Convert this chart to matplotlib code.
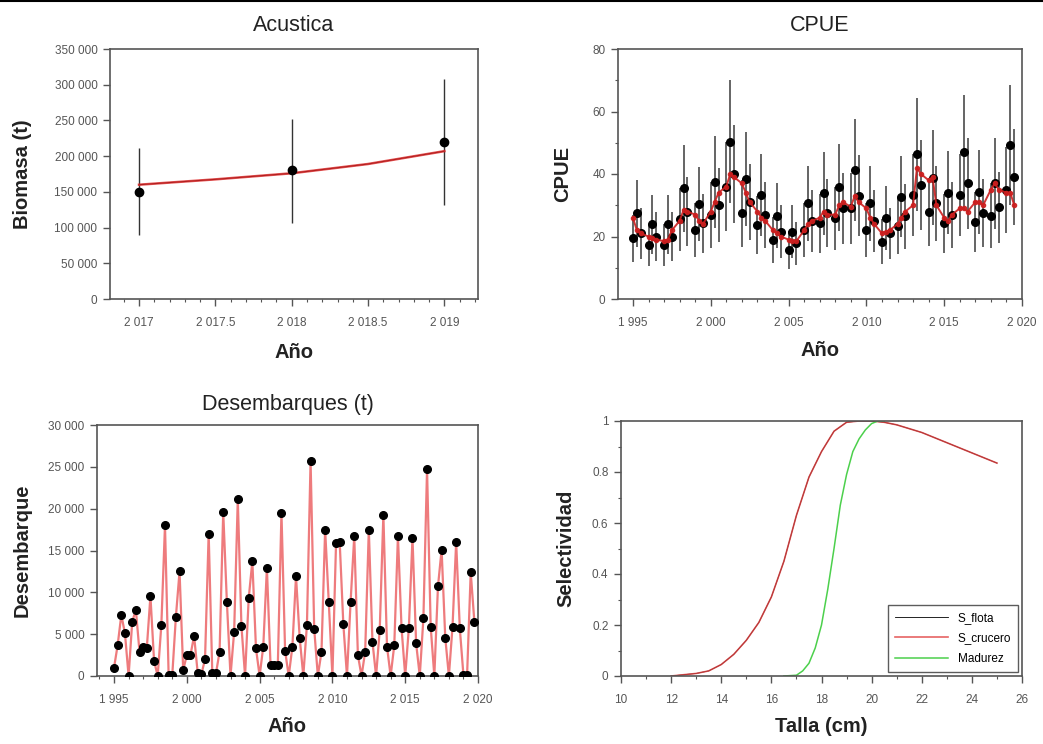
import matplotlib
matplotlib.use("Agg")
import matplotlib.pyplot as plt
import numpy as np
from matplotlib.lines import Line2D
from matplotlib.ticker import FuncFormatter, MultipleLocator

plt.rcParams['font.family'] = ['Liberation Sans', 'DejaVu Sans']

# --- Acustica ---
acu_year = [2017, 2018, 2019]
acu_obs = [150000, 180000, 220000]
acu_lo = [90000, 107000, 132000]
acu_hi = [212000, 252000, 308000]
acu_fit_year = [2017, 2017.5, 2018, 2018.5, 2019]
acu_fit = [160000, 167500, 176000, 189000, 207000]

# --- CPUE (3 per year) ---
cpue_year = list(range(1995, 2020))
cpue_obs = [19.4, 27.4, 21.0, 17.3, 23.9, 19.9, 17.3, 23.9, 19.9, 25.5, 35.4, 28.0,
            22.1, 30.3, 24.2, 27.0, 37.5, 30.1, 36.0, 50.3, 40.0, 27.4, 38.3, 31.0,
            23.7, 33.3, 27.0, 18.9, 26.6, 21.5, 15.7, 21.5, 17.8, 22.1, 30.6, 25.0,
            24.2, 33.8, 27.5, 25.8, 35.7, 29.0, 29.0, 41.3, 33.0, 22.1, 30.6, 25.0,
            18.3, 26.0, 21.0, 23.5, 32.8, 26.5, 33.3, 46.3, 36.5, 27.9, 38.8, 30.6,
            24.2, 34.0, 27.0, 33.3, 46.9, 37.0, 24.5, 34.3, 27.6, 26.6, 37.0, 29.3,
            35.0, 49.3, 39.1]
cpue_fit = [26, 22, 21, 20, 19.5, 19, 18.5, 19, 22, 25, 28.5, 28,
            27, 25, 24, 28, 31, 34, 36, 40, 39, 37, 34, 31,
            28, 26, 25, 22, 21, 20, 19, 18.5, 18.5, 22, 24, 25,
            26, 28, 27, 27, 30, 31, 29.5, 33, 31, 29, 26, 24,
            21, 21.5, 22, 24, 26, 28, 30, 42, 40, 38, 39, 30,
            26, 25, 27, 29, 29, 28, 31, 31, 30, 35, 37, 35,
            34, 34, 30]
cpue_cv = 0.2

# --- Desembarques (quarterly) ---
des_start = 1995
des_obs = [1000, 3700, 7300, 5100, 0, 6500, 7900, 2900, 3500, 3300, 9560, 1800,
           0, 6100, 18000, 100, 100, 7100, 12500, 700, 2500, 2500, 4800, 300,
           200, 2000, 17000, 300, 300, 2900, 19600, 8900, 0, 5300, 21100, 6000,
           0, 9300, 13700, 3300, 0, 3500, 12900, 1300, 1300, 1300, 19500, 3000,
           0, 3500, 11900, 4600, 0, 6100, 25700, 5600, 0, 2900, 17500, 8800,
           0, 15900, 16000, 6200, 0, 8900, 16700, 2500, 0, 2900, 17500, 4100,
           0, 5500, 19300, 3500, 0, 3700, 16700, 5700, 0, 5700, 16500, 3900,
           0, 6900, 24700, 5900, 0, 10700, 15100, 4600, 0, 5900, 16000, 5700,
           100, 100, 12400, 6500]

# --- Selectividad ---
talla = [12, 12.5, 13, 13.5, 14, 14.5, 15, 15.5, 16, 16.5, 17, 17.5, 18, 18.5,
         19, 19.5, 20, 20.5, 21, 21.5, 22, 22.5, 23, 23.5, 24, 24.5, 25]
s_crucero = [0.0, 0.005, 0.01, 0.02, 0.045, 0.085, 0.14, 0.21, 0.31, 0.45, 0.63, 0.78,
             0.88, 0.96, 0.995, 1.0, 1.0, 0.995, 0.985, 0.97, 0.955, 0.935, 0.915,
             0.895, 0.875, 0.855, 0.835]
s_flota = list(s_crucero)
talla_mad = [16.5, 17, 17.25, 17.5, 17.75, 18, 18.25, 18.5, 18.75, 19, 19.25, 19.5,
             19.75, 20, 20.25, 20.5]
madurez = [0.0, 0.003, 0.02, 0.05, 0.11, 0.2, 0.34, 0.5, 0.67, 0.79, 0.88, 0.93,
           0.965, 0.99, 1.0, 1.0]

W, H = 1043, 744
fig = plt.figure(figsize=(W / 100, H / 100), dpi=100)
fig.add_artist(Line2D([0, 1], [0.998, 0.998], color='black', lw=1.5))

SPINE = '#555555'
TICKC = '#555555'


def sep(v, pos=None):
    if abs(v - round(v)) < 1e-9:
        return f"{int(round(v)):,}".replace(",", " ")
    return f"{v:,.1f}".replace(",", " ")


def box(rect):
    l, r, t, b = rect
    return [l / W, 1 - b / H, (r - l) / W, (b - t) / H]


def style(ax, xlabel, ylabel, ylx, xly):
    for s in ax.spines.values():
        s.set_color(SPINE)
        s.set_linewidth(1.2)
    ax.tick_params(which='major', direction='out', length=5, width=1, color=SPINE,
                   labelsize=8.5, labelcolor=TICKC, pad=4)
    ax.tick_params(which='minor', direction='out', length=2.5, width=0.8, color=SPINE)
    ax.tick_params(axis='x', which='major', pad=8)
    ax.set_xlabel(xlabel, fontsize=14.5, fontweight='bold', color='#222222')
    ax.set_ylabel(ylabel, fontsize=14.5, fontweight='bold', color='#222222')
    ax.xaxis.label.set_va('center')
    ax.yaxis.label.set_va('center')
    ax.xaxis.set_label_coords(0.5, xly)
    ax.yaxis.set_label_coords(ylx, 0.5)


# Panel 1: Acustica
ax1 = fig.add_axes(box((110, 478, 49, 299)))
ax1.plot(acu_fit_year, acu_fit, color='black', lw=0.8, zorder=2)
ax1.plot(acu_fit_year, acu_fit, color='#e02828', lw=1.8, alpha=0.8, zorder=3)
ax1.vlines(acu_year, acu_lo, acu_hi, color='#333333', lw=1, zorder=2)
ax1.plot(acu_year, acu_obs, 'o', color='black', ms=6, zorder=4)
ax1.set_xlim(2016.81, 2019.22)
ax1.set_ylim(0, 350000)
ax1.xaxis.set_major_locator(MultipleLocator(0.5))
ax1.xaxis.set_minor_locator(MultipleLocator(0.1))
ax1.yaxis.set_major_locator(MultipleLocator(50000))
ax1.xaxis.set_major_formatter(FuncFormatter(sep))
ax1.yaxis.set_major_formatter(FuncFormatter(sep))
ax1.set_title('Acustica', fontsize=15.5, pad=13, color='#222222')
style(ax1, 'Año', 'Biomasa (t)', -0.239, -0.212)

# Panel 2: CPUE
t_cpue = [y + q for y in cpue_year for q in (0.0, 0.25, 0.5)]
obs = np.array(cpue_obs)
ax2 = fig.add_axes(box((618, 1022, 49, 299)))
ax2.vlines(t_cpue, obs * (1 - 1.96 * cpue_cv), obs * (1 + 1.96 * cpue_cv),
           color='#3a3a3a', lw=1.1, zorder=2)
ax2.plot(t_cpue, cpue_obs, 'o', color='black', ms=5.5, zorder=3)
ax2.plot(t_cpue, cpue_fit, '-o', color='#cc1f1f', lw=1.4, ms=3, alpha=0.9, zorder=4)
ax2.set_xlim(1994.04, 2020)
ax2.set_ylim(0, 80)
ax2.xaxis.set_major_locator(MultipleLocator(5))
ax2.xaxis.set_minor_locator(MultipleLocator(1))
ax2.yaxis.set_major_locator(MultipleLocator(20))
ax2.yaxis.set_minor_locator(MultipleLocator(10))
ax2.xaxis.set_major_formatter(FuncFormatter(sep))
ax2.set_title('CPUE', fontsize=15.5, pad=13, color='#222222')
style(ax2, 'Año', 'CPUE', -0.136, -0.208)

# Panel 3: Desembarques
t_des = [des_start + i / 4 for i in range(len(des_obs))]
ax3 = fig.add_axes(box((97, 478, 425, 676)))
ax3.plot(t_des, des_obs, '-', color='#ea5a5c', lw=1.6, alpha=0.8, zorder=2)
ax3.plot(t_des, des_obs, 'o', color='black', ms=5.5, zorder=3)
ax3.set_xlim(1993.83, 2020)
ax3.set_ylim(0, 30000)
ax3.xaxis.set_major_locator(MultipleLocator(5))
ax3.xaxis.set_minor_locator(MultipleLocator(1))
ax3.yaxis.set_major_locator(MultipleLocator(5000))
ax3.xaxis.set_major_formatter(FuncFormatter(sep))
ax3.yaxis.set_major_formatter(FuncFormatter(sep))
ax3.set_title('Desembarques (t)', fontsize=15.5, pad=11, color='#222222')
style(ax3, 'Año', 'Desembarque', -0.197, -0.203)

# Panel 4: Selectividad
ax4 = fig.add_axes(box((621, 1022, 421, 676)))
ax4.plot(talla, s_flota, color='black', lw=0.6, label='S_flota')
ax4.plot(talla, s_crucero, color='#e03c3c', lw=1.2, alpha=0.8, label='S_crucero')
ax4.plot(talla_mad, madurez, color='#4cd04c', lw=1.1, label='Madurez')
ax4.set_xlim(10, 26)
ax4.set_ylim(0, 1)
ax4.xaxis.set_major_locator(MultipleLocator(2))
ax4.xaxis.set_minor_locator(MultipleLocator(1))
ax4.yaxis.set_major_locator(MultipleLocator(0.2))
ax4.yaxis.set_minor_locator(MultipleLocator(0.1))
ax4.yaxis.set_major_formatter(FuncFormatter(lambda v, p: f"{v:g}"))
leg = ax4.legend(loc='lower right', fontsize=8.5, frameon=True, fancybox=False,
                 edgecolor='#333333', handlelength=4.5, borderaxespad=0.3,
                 labelspacing=0.75, borderpad=0.6)
leg.get_frame().set_linewidth(1)
style(ax4, 'Talla (cm)', 'Selectividad', -0.137, -0.2)

fig.savefig('out.png', dpi=100)
